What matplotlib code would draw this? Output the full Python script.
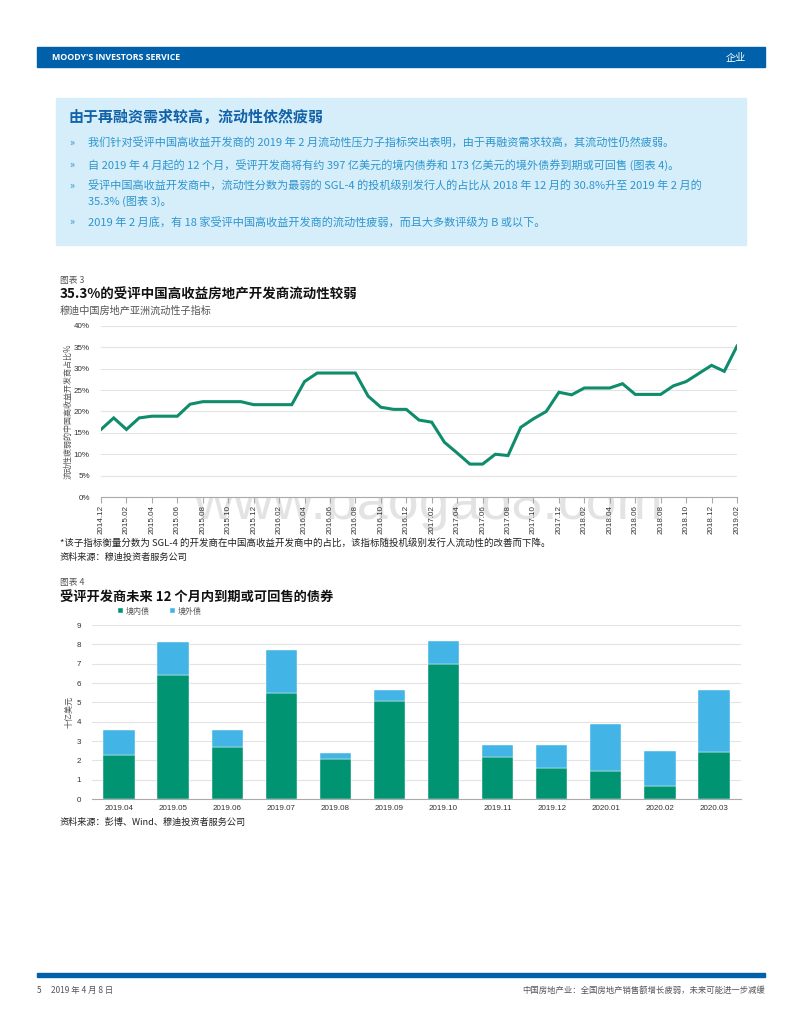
import matplotlib
matplotlib.use("Agg")
import matplotlib.pyplot as plt
from matplotlib.patches import Rectangle

plt.rcParams['font.family'] = ['Noto Sans CJK SC', 'DejaVu Sans']

# ---------------- data ----------------
months = ["2014.12",
          "2015.01", "2015.02", "2015.03", "2015.04", "2015.05", "2015.06",
          "2015.07", "2015.08", "2015.09", "2015.10", "2015.11", "2015.12",
          "2016.01", "2016.02", "2016.03", "2016.04", "2016.05", "2016.06",
          "2016.07", "2016.08", "2016.09", "2016.10", "2016.11", "2016.12",
          "2017.01", "2017.02", "2017.03", "2017.04", "2017.05", "2017.06",
          "2017.07", "2017.08", "2017.09", "2017.10", "2017.11", "2017.12",
          "2018.01", "2018.02", "2018.03", "2018.04", "2018.05", "2018.06",
          "2018.07", "2018.08", "2018.09", "2018.10", "2018.11", "2018.12",
          "2019.01", "2019.02"]
weak_share = [15.8,
              18.5, 15.8, 18.5, 18.9, 18.9, 18.9,
              21.7, 22.3, 22.3, 22.3, 22.3, 21.6,
              21.6, 21.6, 21.6, 27.0, 29.0, 29.0,
              29.0, 29.0, 23.6, 21.0, 20.5, 20.5,
              18.0, 17.5, 12.8, 10.3, 7.7, 7.7,
              10.0, 9.7, 16.3, 18.3, 20.0, 24.5,
              23.9, 25.5, 25.5, 25.5, 26.5, 24.0,
              24.0, 24.0, 26.0, 27.0, 28.9, 30.8,
              29.4, 35.3]

bond_months = ["2019.04", "2019.05", "2019.06", "2019.07", "2019.08", "2019.09",
               "2019.10", "2019.11", "2019.12", "2020.01", "2020.02", "2020.03"]
onshore = [2.28, 6.41, 2.71, 5.50, 2.05, 5.09, 6.98, 2.19, 1.62, 1.47, 0.69, 2.45]
offshore = [1.31, 1.71, 0.84, 2.19, 0.33, 0.53, 1.19, 0.60, 1.17, 2.41, 1.78, 3.19]

bullets = [
    "我们针对受评中国高收益开发商的 2019 年 2 月流动性压力子指标突出表明，由于再融资需求较高，其流动性仍然疲弱。",
    "自 2019 年 4 月起的 12 个月，受评开发商将有约 397 亿美元的境内债券和 173 亿美元的境外债券到期或可回售 (图表 4)。",
    "受评中国高收益开发商中，流动性分数为最弱的 SGL-4 的投机级别发行人的占比从 2018 年 12 月的 30.8%升至 2019 年 2 月的\n35.3% (图表 3)。",
    "2019 年 2 月底，有 18 家受评中国高收益开发商的流动性疲弱，而且大多数评级为 B 或以下。",
]

# ---------------- layout helpers ----------------
W, H = 800, 1036
fig = plt.figure(figsize=(W / 100, H / 100), dpi=100)


def fx(x):
    return x / W


def fy(y):
    return 1 - y / H


def ax_rect(l, t, r, b):
    return [fx(l), fy(b), (r - l) / W, (b - t) / H]


NAVY = "#0061AA"
TXT_BLUE = "#2E95CE"
GREEN = "#0E8C6B"
BAR_GREEN = "#009473"
BAR_BLUE = "#42B4E6"
GRID = "#E3E3E3"
GRAY = "#555555"

# header bar
fig.patches.append(Rectangle((fx(37), fy(67)), (765 - 37) / W, 20 / H,
                             transform=fig.transFigure, color=NAVY, zorder=0))
fig.text(fx(52), fy(57.5), "MOODY'S INVESTORS SERVICE", color="white",
         fontsize=6.3, fontweight="bold", va="center", family=["Open Sans", "DejaVu Sans"])
fig.text(fx(746), fy(57.5), "企业", color="white", fontsize=7.3, va="center", ha="right")

# light blue box
fig.patches.append(Rectangle((fx(56), fy(245)), (746 - 56) / W, (245 - 98) / H,
                             transform=fig.transFigure, color="#D5EEFA", zorder=0))
fig.text(fx(68), fy(117), "由于再融资需求较高，流动性依然疲弱", color="#1262A8",
         fontsize=10.8, fontweight="bold", va="center")
bullet_y = [143, 165, 180, 222]
for yy, t in zip(bullet_y, bullets):
    multi = "\n" in t
    fig.text(fx(69), fy(yy + (6 if multi else 0)), "»", color=TXT_BLUE, fontsize=7.5, va="center")
    fig.text(fx(88), fy(yy), t, color=TXT_BLUE, fontsize=8.0,
             va="top" if multi else "center", linespacing=1.6)

# ---------------- chart 3 ----------------
fig.text(fx(60), fy(280), "图表 3", color=GRAY, fontsize=6.3, va="center")
fig.text(fx(60), fy(295), "35.3%的受评中国高收益房地产开发商流动性较弱", color="#111111",
         fontsize=9.7, fontweight="bold", va="center")
fig.text(fx(60), fy(311), "穆迪中国房地产亚洲流动性子指标", color=GRAY, fontsize=7.3, va="center")

ax1 = fig.add_axes(ax_rect(101, 326, 737, 497))
x = list(range(len(months)))
ax1.plot(x, weak_share, color=GREEN, lw=2.2, solid_joinstyle="miter", zorder=3)
ax1.set_xlim(0, len(months) - 1)
ax1.set_ylim(0, 40)
ax1.set_yticks(range(0, 41, 5))
ax1.set_yticklabels([f"{v}%" for v in range(0, 41, 5)], fontsize=5.8, color="#333333",
                    family=["Liberation Sans", "DejaVu Sans"])
ax1.set_xticks(x[::2])
ax1.set_xticklabels(months[::2], rotation=90, fontsize=5.8, color="#333333",
                    family=["Liberation Sans", "DejaVu Sans"])
ax1.grid(axis="y", color=GRID, lw=0.8)
ax1.set_axisbelow(True)
for s in ["top", "right", "left"]:
    ax1.spines[s].set_visible(False)
ax1.spines["bottom"].set_color("#AAAAAA")
ax1.tick_params(axis="y", length=0, pad=8)
ax1.tick_params(axis="x", length=4, color="#AAAAAA", pad=2)
ax1.set_ylabel("流动性疲弱的中国高收益开发商占比%", fontsize=5.8, color=GRAY, labelpad=1)

fig.text(fx(60), fy(543), "*该子指标衡量分数为 SGL-4 的开发商在中国高收益开发商中的占比，该指标随投机级别发行人流动性的改善而下降。",
         fontsize=6.8, color="#222222", va="center")
fig.text(fx(60), fy(557), "资料来源：穆迪投资者服务公司", fontsize=6.6, color="#222222",
         va="center", style="italic")

# watermark
fig.text(fx(428), fy(505), "www.baogao8.com", fontsize=40, color="#DDDDDD", alpha=0.8,
         ha="center", va="center", family=["Liberation Sans", "DejaVu Sans"], zorder=-1)

# ---------------- chart 4 ----------------
fig.text(fx(60), fy(582), "图表 4", color=GRAY, fontsize=6.3, va="center")
fig.text(fx(60), fy(597), "受评开发商未来 12 个月内到期或可回售的债券", color="#111111",
         fontsize=9.5, fontweight="bold", va="center")

ax2 = fig.add_axes(ax_rect(92, 625, 741, 799))
bx = list(range(len(bond_months)))
ax2.bar(bx, onshore, width=0.58, color=BAR_GREEN, edgecolor="white", linewidth=0.3,
        label="境内债", zorder=3)
ax2.bar(bx, offshore, bottom=onshore, width=0.58, color=BAR_BLUE, edgecolor="white",
        linewidth=0.3, label="境外债", zorder=3)
ax2.set_xlim(-0.5, len(bond_months) - 0.5)
ax2.set_ylim(0, 9)
ax2.set_yticks(range(0, 10))
ax2.set_yticklabels([str(v) for v in range(0, 10)], fontsize=5.8, color="#333333",
                    family=["Liberation Sans", "DejaVu Sans"])
ax2.set_xticks(bx)
ax2.set_xticklabels(bond_months, fontsize=5.8, color="#333333",
                    family=["Liberation Sans", "DejaVu Sans"])
ax2.grid(axis="y", color=GRID, lw=0.8)
ax2.set_axisbelow(True)
for s in ["top", "right", "left"]:
    ax2.spines[s].set_visible(False)
ax2.spines["bottom"].set_color("#AAAAAA")
ax2.tick_params(axis="y", length=0, pad=8)
ax2.tick_params(axis="x", length=0, pad=4)
ax2.set_ylabel("十亿美元", fontsize=5.8, color=GRAY, labelpad=2)
ax2.legend(loc="center left", bbox_to_anchor=(fx(114), fy(611)), bbox_transform=fig.transFigure,
           ncol=2, frameon=False, fontsize=5.8, handlelength=0.6, handleheight=0.6,
           handletextpad=0.3, columnspacing=2.6, labelcolor=GRAY, borderpad=0)

fig.text(fx(60), fy(822), "资料来源：彭博、Wind、穆迪投资者服务公司", fontsize=6.6, color="#222222",
         va="center", style="italic")

# ---------------- footer ----------------
fig.patches.append(Rectangle((fx(37), fy(977)), (765 - 37) / W, 4 / H,
                             transform=fig.transFigure, color=NAVY, zorder=0))
fig.text(fx(37), fy(990), "5     2019 年 4 月 8 日", fontsize=6, color=GRAY, va="center")
fig.text(fx(765), fy(990), "中国房地产业：全国房地产销售额增长疲弱，未来可能进一步减缓", fontsize=6,
         color=GRAY, va="center", ha="right")

fig.savefig("out.png", dpi=100)
